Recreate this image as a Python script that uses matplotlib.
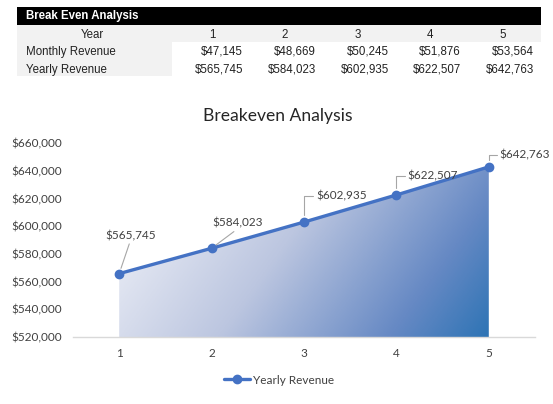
import numpy as np
import matplotlib
matplotlib.use("Agg")
from matplotlib import pyplot as plt
from matplotlib.colors import LinearSegmentedColormap
from matplotlib.patches import Rectangle

# data
years = [1, 2, 3, 4, 5]
monthly_revenue = [47145, 48669, 50245, 51876, 53564]
yearly_revenue = [565745, 584023, 602935, 622507, 642763]
y_ticks = [520000, 540000, 560000, 580000, 600000, 620000, 640000, 660000]

W, H = 553, 404
fig = plt.figure(figsize=(W / 100, H / 100), dpi=100)
fig.patch.set_facecolor("white")

# --- table at the top, drawn in pixel coords ---
tab = fig.add_axes([0, 0, 1, 1])
tab.set_xlim(0, W)
tab.set_ylim(H, 0)
tab.axis("off")

tab.add_patch(Rectangle((17, 7), 524, 18, color="black", lw=0))
tab.add_patch(Rectangle((17, 25), 524, 17, color="#f2f2f2", lw=0))
tab.add_patch(Rectangle((17, 42), 155, 34, color="#f2f2f2", lw=0))

tfont = dict(family="Liberation Sans", fontsize=8.3, color="#222222")
tab.text(26, 16.5, "Break Even Analysis", color="white", fontweight="bold",
         family="Liberation Sans", fontsize=8.3, va="center")
tab.text(92, 35, "Year", ha="center", va="center", **tfont)
tab.text(26, 52, "Monthly Revenue", va="center", **tfont)
tab.text(26, 69.5, "Yearly Revenue", va="center", **tfont)

col_x = [212, 285, 358, 430, 503]
for cx, yr, m, yv in zip(col_x, years, monthly_revenue, yearly_revenue):
    tab.text(cx, 35, str(yr), ha="center", va="center", **tfont)
    tab.text(cx + 31, 52, f"${m:,}", ha="right", va="center", **tfont)
    tab.text(cx + 31, 69.5, f"${yv:,}", ha="right", va="center", **tfont)

# --- chart ---
cfont = "Lato"
fs = 8.5
left, right, bottom, top = 73, 535, 337, 143
ax = fig.add_axes([left / W, 1 - bottom / H, (right - left) / W, (bottom - top) / H])
ax.set_xlim(0.5, 5.5)
ax.set_ylim(520000, 660000)

line_col = "#4472C4"

# gradient fill under the line
poly = ax.fill_between(years, yearly_revenue, 520000, color="none", lw=0)
nx, ny = 300, 200
u = np.linspace(0, 1, nx)[None, :]
v = np.linspace(0, 1, ny)[:, None]
t = np.clip(0.75 * u + 0.25 * (1 - v), 0, 1)
cmap = LinearSegmentedColormap.from_list(
    "grad", [(0, "#f6f7fb"), (0.45, "#bcc6e0"), (0.8, "#6689c4"), (1, "#2e74b5")])
img = ax.imshow(t, cmap=cmap, vmin=0, vmax=1, origin="lower", aspect="auto",
                extent=[years[0], years[-1], 520000, max(yearly_revenue)], zorder=1)
img.set_clip_path(poly.get_paths()[0], transform=ax.transData)

ax.plot(years, yearly_revenue, color=line_col, lw=2.4, marker="o", ms=6,
        zorder=3, label="Yearly Revenue", solid_capstyle="round")

ax.set_xlim(0.5, 5.5)
ax.set_ylim(520000, 660000)

# data labels with leader lines
label_offsets = [(11, 38), (26, 25), (12, 26), (11, 19), (11, 12)]
for i, (xv, yv) in enumerate(zip(years, yearly_revenue)):
    dx, dy = label_offsets[i]
    if i < 2:
        ax.annotate(f"${yv:,}", (xv, yv), xytext=(dx, dy), textcoords="offset pixels",
                    ha="center", va="center", fontsize=fs, family=cfont, color="#404040",
                    arrowprops=dict(arrowstyle="-", color="#a6a6a6", lw=0.8,
                                    relpos=(0.5, 0), shrinkA=0, shrinkB=4),
                    zorder=4)
    else:
        ax.annotate(f"${yv:,}", (xv, yv), xytext=(dx, dy), textcoords="offset pixels",
                    ha="left", va="center", fontsize=fs, family=cfont, color="#404040",
                    arrowprops=dict(arrowstyle="-", color="#a6a6a6", lw=0.8,
                                    relpos=(0, 0.5), shrinkA=0, shrinkB=5,
                                    connectionstyle="angle,angleA=0,angleB=90,rad=0"),
                    zorder=4)

for s in ["top", "right", "left"]:
    ax.spines[s].set_visible(False)
ax.spines["bottom"].set_color("#d9d9d9")
ax.spines["bottom"].set_linewidth(1)

ax.set_xticks(years)
ax.set_xticklabels([str(y) for y in years])
ax.set_yticks(y_ticks)
ax.set_yticklabels([f"${v:,}" for v in y_ticks])
ax.tick_params(length=0, labelsize=fs, labelcolor="#404040", pad=8)
for lab in ax.get_xticklabels() + ax.get_yticklabels():
    lab.set_family(cfont)
ax.patch.set_alpha(0)

fig.text(278 / W, 1 - 116 / H, "Breakeven Analysis", ha="center", va="center",
         family=cfont, fontsize=12.6, color="#262626")

leg = fig.legend(loc="center", bbox_to_anchor=(279 / W, 1 - 380 / H), frameon=False,
                 prop=dict(family=cfont, size=fs), handlelength=2.2, handletextpad=0.2,
                 labelcolor="#404040")

fig.savefig("out.png", dpi=100)
